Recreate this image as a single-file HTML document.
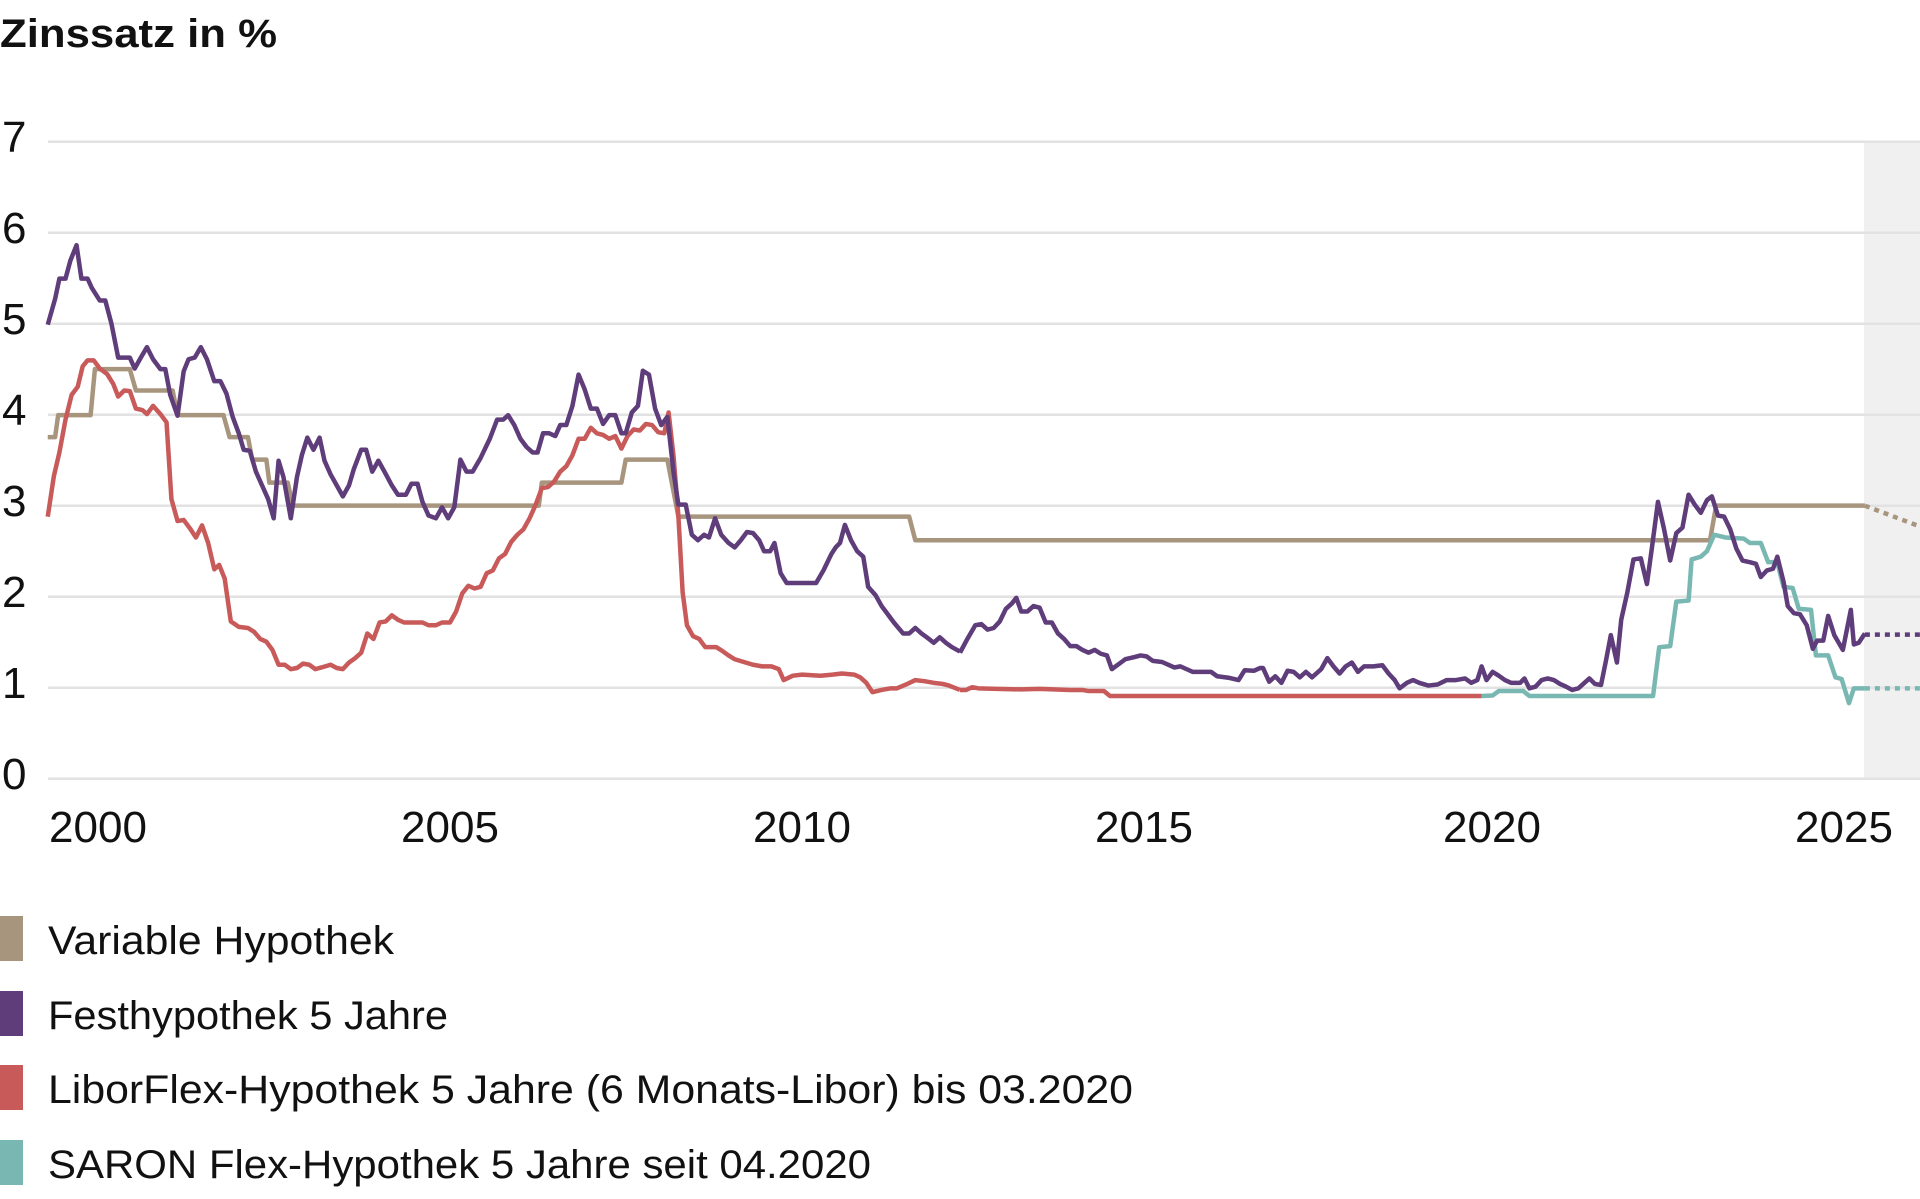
<!DOCTYPE html>
<html><head><meta charset="utf-8"><style>html,body{margin:0;padding:0;background:#fff}svg{display:block}</style></head>
<body>
<svg width="1920" height="1199" viewBox="0 0 1920 1199" xmlns="http://www.w3.org/2000/svg" font-family="'Liberation Sans', sans-serif">
<rect width="1920" height="1199" fill="#fff"/>
<text x="0" y="47" font-size="40" font-weight="bold" fill="#111" textLength="277" lengthAdjust="spacingAndGlyphs">Zinssatz in %</text>
<rect x="1864" y="141" width="56" height="638" fill="#f0f0f0"/>
<g stroke="#e2e2e2" stroke-width="2.5">
<line x1="48" x2="1920" y1="141.7" y2="141.7"/>
<line x1="48" x2="1920" y1="232.7" y2="232.7"/>
<line x1="48" x2="1920" y1="323.7" y2="323.7"/>
<line x1="48" x2="1920" y1="414.7" y2="414.7"/>
<line x1="48" x2="1920" y1="505.7" y2="505.7"/>
<line x1="48" x2="1920" y1="596.7" y2="596.7"/>
<line x1="48" x2="1920" y1="687.7" y2="687.7"/>
<line x1="48" x2="1920" y1="778.7" y2="778.7"/>
</g>
<g font-size="44" fill="#111">
<text x="2" y="152">7</text>
<text x="2" y="243">6</text>
<text x="2" y="334">5</text>
<text x="2" y="425">4</text>
<text x="2" y="516">3</text>
<text x="2" y="607">2</text>
<text x="2" y="698">1</text>
<text x="2" y="789">0</text>
</g>
<g font-size="44" fill="#111" text-anchor="middle">
<text x="98" y="842">2000</text>
<text x="450" y="842">2005</text>
<text x="802" y="842">2010</text>
<text x="1144" y="842">2015</text>
<text x="1492" y="842">2020</text>
<text x="1844" y="842">2025</text>
</g>
<g fill="none" stroke-width="4.5" stroke-linejoin="round">
<g transform="scale(0.61224,0.54846)">
<polyline vector-effect="non-scaling-stroke" stroke="#a8957e" points="78,797 90,797 95,757 148,757 155,673 212,673 222,712 282,712 290,757 365,757 375,797 405,797 412,838 435,838 440,880 470,880 478,922 880,922 885,880 1015,880 1022,838 1090,838 1108,942 1485,942 1495,985 1568,985"/>
<polyline vector-effect="non-scaling-stroke" stroke="#c85a5a" points="78,942 88,868 97,825 107,765 117,720 127,705 135,668 143,657 153,657 163,672 175,682 185,700 193,723 203,712 212,713 222,745 233,748 240,755 250,740 262,755 272,770 280,910 290,950 300,948 310,963 320,980 330,958 340,990 350,1038 358,1030 367,1055 377,1133 390,1143 405,1145 415,1152 425,1165 435,1170 445,1185 455,1212 465,1212 475,1220 485,1218 495,1210 505,1212 515,1220 525,1217 540,1212 550,1218 560,1220 570,1208 580,1200 590,1190 600,1155 610,1165 620,1135 630,1133 640,1122 650,1130 660,1135 675,1135 690,1135 700,1140 712,1140 722,1135 735,1135 745,1115 755,1082 765,1068 775,1073 785,1070 795,1045 805,1040 815,1018 825,1010 835,988 845,975 855,965 865,945 875,920 885,890 895,888 905,878 915,860 925,850 935,830 945,800 955,800 965,780 975,790 985,793 995,800 1005,795 1015,818 1025,795 1035,783 1045,785 1055,773 1065,775 1075,788 1085,790 1092,752 1100,830 1108,940 1115,1080 1122,1140 1132,1160 1142,1165 1152,1180 1170,1180 1180,1187 1190,1195 1200,1202 1215,1207 1230,1212 1245,1215 1260,1215 1272,1220 1280,1240 1295,1232 1310,1230 1340,1232 1360,1230 1375,1228 1395,1230 1405,1235 1415,1245 1425,1262 1440,1258 1455,1255 1465,1255 1480,1248 1495,1240 1510,1242 1525,1245 1540,1247 1550,1250 1568,1258"/>
<polyline vector-effect="non-scaling-stroke" stroke="#5e3d7a" points="78,592 90,545 97,508 107,508 115,475 125,447 133,508 143,508 150,525 163,548 172,548 182,590 193,652 212,652 220,672 230,652 240,633 250,655 262,673 270,673 278,720 290,758 300,677 308,655 318,652 328,633 338,655 350,695 360,695 370,718 380,760 390,790 398,820 408,822 418,860 428,885 438,910 447,945 455,840 463,870 475,945 485,870 493,830 502,798 512,820 522,798 530,840 540,865 550,885 560,905 570,885 578,855 590,820 598,820 608,860 618,840 628,860 640,885 650,902 663,902 672,882 682,882 690,915 700,940 712,945 722,925 732,945 742,925 752,838 762,860 772,860 785,835 800,800 812,765 822,765 830,757 840,775 850,800 860,815 870,825 878,825 887,790 897,790 907,795 915,775 925,775 935,740 945,683 955,710 965,745 975,745 985,773 995,757 1005,757 1015,790 1022,790 1032,752 1042,740 1050,676 1060,683 1070,745 1080,775 1090,760 1100,860 1108,920 1120,920 1130,975 1140,985 1150,975 1158,980 1168,945 1178,975 1190,990 1200,998 1210,985 1220,970 1230,972 1240,985 1248,1005 1258,1005 1265,990 1275,1045 1285,1063 1300,1063 1333,1063 1345,1040 1358,1010 1365,998 1372,990 1380,957 1390,985 1400,1005 1410,1015 1418,1070 1430,1085 1440,1105 1450,1120 1460,1135 1475,1155 1485,1155 1495,1145 1505,1155 1515,1163 1525,1172 1535,1162 1545,1172 1555,1180 1568,1188"/>
</g>
<g transform="translate(960,0) scale(0.61224,0.54846)">
<polyline vector-effect="non-scaling-stroke" stroke="#a8957e" points="0,985 1225,985 1235,922 1478,922"/>
<polyline vector-effect="non-scaling-stroke" stroke="#a8957e" stroke-dasharray="5 5" points="1478,922 1568,960"/>
<polyline vector-effect="non-scaling-stroke" stroke="#c85a5a" points="0,1258 10,1258 20,1253 30,1255 60,1256 100,1257 130,1256 180,1258 200,1258 210,1260 235,1260 245,1269 852,1269"/>
<polyline vector-effect="non-scaling-stroke" stroke="#79b8b2" points="852,1269 870,1268 880,1260 920,1260 930,1269 1132,1269 1142,1180 1160,1178 1170,1097 1190,1095 1195,1020 1210,1015 1220,1005 1232,975 1250,980 1280,982 1290,990 1308,990 1320,1025 1335,1025 1345,1070 1360,1072 1370,1110 1390,1112 1398,1195 1418,1195 1430,1235 1440,1238 1452,1282 1460,1255 1478,1255"/>
<polyline vector-effect="non-scaling-stroke" stroke="#79b8b2" stroke-dasharray="5 5" points="1478,1255 1568,1255"/>
<polyline vector-effect="non-scaling-stroke" stroke="#5e3d7a" points="0,1190 12,1165 25,1140 35,1138 45,1148 55,1145 65,1133 75,1110 85,1100 92,1090 100,1115 110,1115 120,1105 130,1108 140,1135 150,1135 160,1155 170,1165 180,1178 190,1178 200,1185 210,1190 220,1185 230,1192 240,1195 248,1220 258,1212 270,1202 285,1198 295,1195 305,1197 315,1205 330,1207 340,1212 350,1217 360,1215 370,1220 380,1225 410,1225 420,1233 440,1236 455,1240 465,1222 480,1223 490,1218 495,1218 505,1243 515,1233 525,1245 535,1223 545,1225 555,1235 565,1225 575,1235 590,1220 600,1200 610,1215 620,1228 630,1215 640,1208 650,1225 660,1215 675,1215 690,1213 700,1228 710,1240 718,1255 730,1245 740,1240 750,1245 765,1250 780,1248 795,1240 810,1240 825,1237 835,1245 845,1240 852,1215 860,1240 870,1225 880,1232 890,1240 900,1245 915,1245 922,1237 930,1255 940,1252 950,1240 960,1237 970,1240 980,1247 990,1252 1000,1258 1010,1255 1020,1245 1028,1237 1037,1247 1047,1249 1055,1205 1063,1158 1073,1208 1080,1130 1090,1080 1100,1020 1112,1018 1122,1065 1130,1000 1140,915 1150,965 1160,1022 1170,972 1180,962 1190,902 1200,920 1210,935 1220,912 1228,905 1238,940 1248,942 1258,965 1268,1000 1278,1022 1290,1025 1300,1028 1308,1052 1318,1040 1328,1037 1335,1015 1345,1060 1352,1105 1362,1118 1372,1120 1383,1140 1393,1183 1400,1168 1410,1168 1418,1123 1428,1158 1442,1185 1455,1112 1460,1175 1468,1172 1478,1155"/>
<polyline vector-effect="non-scaling-stroke" stroke="#5e3d7a" stroke-dasharray="5 5" points="1478,1157 1568,1157"/>
</g>
</g>
<rect x="0" y="916" width="23" height="45" fill="#a8957e"/>
<rect x="0" y="991" width="23" height="45" fill="#5e3d7a"/>
<rect x="0" y="1065" width="23" height="45" fill="#c85a5a"/>
<rect x="0" y="1140" width="23" height="45" fill="#79b8b2"/>
<g font-size="40" fill="#111">
<text x="48" y="954" textLength="346" lengthAdjust="spacingAndGlyphs">Variable Hypothek</text>
<text x="48" y="1029" textLength="400" lengthAdjust="spacingAndGlyphs">Festhypothek 5 Jahre</text>
<text x="48" y="1103" textLength="1085" lengthAdjust="spacingAndGlyphs">LiborFlex-Hypothek 5 Jahre (6 Monats-Libor) bis 03.2020</text>
<text x="48" y="1178" textLength="823" lengthAdjust="spacingAndGlyphs">SARON Flex-Hypothek 5 Jahre seit 04.2020</text>
</g>
</svg>
</body></html>
